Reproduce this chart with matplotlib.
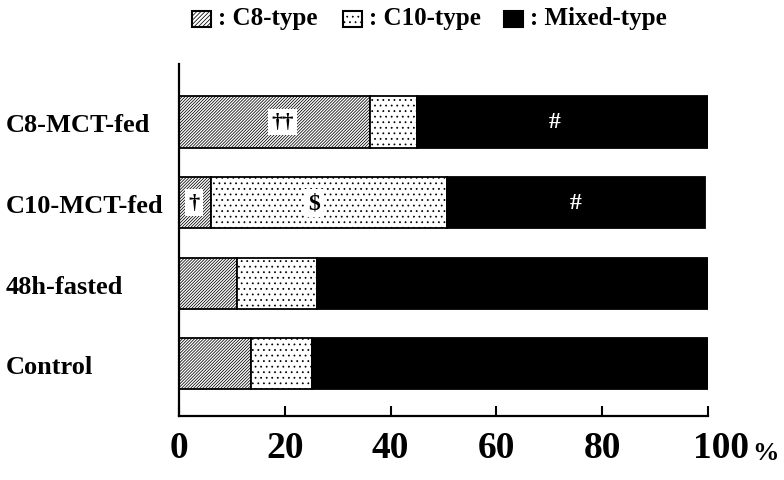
import matplotlib
matplotlib.use("Agg")
import matplotlib.pyplot as plt
import numpy as np
from matplotlib.transforms import offset_copy, ScaledTranslation
from matplotlib.patches import Rectangle

plt.rcParams['hatch.linewidth'] = 0.55

groups = ["Control", "48h-fasted", "C10-MCT-fed", "C8-MCT-fed"]
c8_type = [13.7, 11.0, 6.0, 36.1]
c10_type = [11.4, 15.0, 44.6, 8.9]
mixed_type = [74.9, 74.0, 48.9, 55.0]
xticks = [0, 20, 40, 60, 80, 100]
xticklabels = ["0", "20", "40", "60", "80", "100"]

serif = ["Liberation Serif", "DejaVu Serif"]
HATCH_C8 = "/" * 11
HATCH_C10 = "..."

fig = plt.figure(figsize=(7.84, 4.81), dpi=100)
ax = fig.add_axes([179/784, 1-417/481, (708-179)/784, (417-65)/481])

y = np.arange(len(groups))
h = 0.635
c8 = np.array(c8_type)
c10 = np.array(c10_type)
mx = np.array(mixed_type)

ax.barh(y, c8, height=h, color="white", edgecolor="black", hatch=HATCH_C8, linewidth=1.3)
ax.barh(y, c10, left=c8, height=h, color="white", edgecolor="black", hatch=HATCH_C10, linewidth=1.3)
ax.barh(y, mx, left=c8 + c10, height=h, color="black", edgecolor="black", linewidth=1.3)

ax.set_xlim(0, 100)
ax.set_ylim(-0.65, 3.72)
for s in ["top", "right"]:
    ax.spines[s].set_visible(False)
for s in ["left", "bottom"]:
    ax.spines[s].set_linewidth(1.6)

ax.set_xticks(xticks)
ax.set_xticklabels(xticklabels[:-1] + [""], fontfamily=serif, fontweight="bold", fontsize=27)
ax.tick_params(axis="x", direction="in", length=7, width=1.5, pad=10)
ax.set_yticks(y)
ax.set_yticklabels(groups, fontfamily=serif, fontweight="bold", fontsize=19, ha="left", va="center")
ax.tick_params(axis="y", length=0, pad=125)
for lab in ax.get_yticklabels():
    lab.set_transform(lab.get_transform() + ScaledTranslation(0, -3/100, fig.dpi_scale_trans))

# 100 % label
ax.text(102.5, -0.65, "100", ha="center", va="top", fontfamily=serif, fontweight="bold", fontsize=27,
        transform=offset_copy(ax.transData, fig=fig, x=0, y=-10, units="points"), clip_on=False)
ax.text(110.8, -0.65, "%", ha="center", va="top", fontfamily=serif, fontweight="bold", fontsize=19,
        transform=offset_copy(ax.transData, fig=fig, x=0, y=-18, units="points"), clip_on=False)

# annotations
bbox_w = dict(boxstyle="square,pad=0.15", fc="white", ec="none")
ax.text(19.5, 3, "††", ha="center", va="center", fontfamily=serif, fontweight="bold", fontsize=16, bbox=bbox_w)
ax.text(2.8, 2, "†", ha="center", va="center", fontfamily=serif, fontweight="bold", fontsize=16, bbox=bbox_w)
ax.text(25.5, 2, "$", ha="center", va="center", fontfamily=serif, fontweight="bold", fontsize=17, bbox=bbox_w)
ax.text(71.0, 3, "#", ha="center", va="center", fontfamily=serif, fontweight="bold", fontsize=17, color="white")
ax.text(75.0, 2, "#", ha="center", va="center", fontfamily=serif, fontweight="bold", fontsize=17, color="white")

# legend
legend_items = [(192, ": C8-type"), (343, ": C10-type"), (504, ": Mixed-type")]
styles = [dict(fc="white", hatch="/" * 8), dict(fc="white", hatch="..."), dict(fc="black")]
for (px, lab), st in zip(legend_items, styles):
    r = Rectangle((px/784, 1-28/481), 19/784, 16/481, transform=fig.transFigure,
                  ec="black", lw=1.5, **st)
    fig.patches.append(r)
    fig.text((px+26)/784, 1-19/481, lab, ha="left", va="center", fontfamily=serif,
             fontweight="bold", fontsize=18)

fig.savefig("out.png", dpi=100)
